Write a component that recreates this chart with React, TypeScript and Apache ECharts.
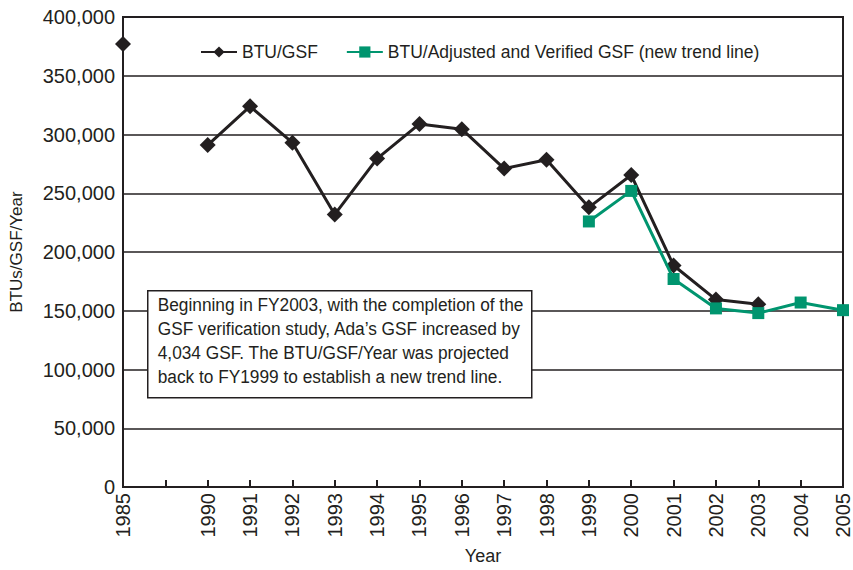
import React, { useEffect, useRef } from "react";
import * as echarts from "echarts";

const years = ["1985", "", "1990", "1991", "1992", "1993", "1994", "1995", "1996", "1997", "1998", "1999", "2000", "2001", "2002", "2003", "2004", "2005"];
const btuGsf = [377000, null, 291000, 324000, 293000, 232000, 279500, 309000, 304500, 271000, 278500, 238000, 265500, 188500, 159500, 155500, null, null];
const btuAdjusted = [null, null, null, null, null, null, null, null, null, null, null, 226000, 252000, 177000, 152000, 148000, 157000, 150500];
const yTicks = [0, 50000, 100000, 150000, 200000, 250000, 300000, 350000, 400000];
const noteLines = [
  "Beginning in FY2003, with the completion of the",
  "GSF verification study, Ada\u2019s GSF increased by",
  "4,034 GSF. The BTU/GSF/Year was projected",
  "back to FY1999 to establish a new trend line.",
];

const FONT = "'Liberation Sans Narrow', 'Arial Narrow', 'Liberation Sans', sans-serif";
const DARK = "#231f20";
const GREEN = "#00956f";

export default function App() {
  const ref = useRef<HTMLDivElement>(null);
  useEffect(() => {
    const chart = echarts.init(ref.current!, null, { renderer: "svg" });
    chart.setOption({
      animation: false,
      backgroundColor: "#ffffff",
      textStyle: { fontFamily: FONT },
      grid: { left: 119, right: 6, top: 17, bottom: 82, show: true, borderColor: DARK, borderWidth: 2 },
      legend: {
        top: 38,
        left: 195,
        itemWidth: 36,
        itemHeight: 14,
        itemGap: 28,
        textStyle: { fontFamily: FONT, fontSize: 17.5, color: DARK },
        data: ["BTU/GSF", "BTU/Adjusted and Verified GSF (new trend line)"],
      },
      xAxis: {
        type: "category",
        data: years,
        boundaryGap: false,
        name: "Year",
        nameLocation: "middle",
        nameGap: 60,
        nameTextStyle: { fontFamily: FONT, fontSize: 18, color: DARK },
        axisLine: { lineStyle: { color: DARK, width: 2 } },
        axisTick: { show: true, inside: true, length: 7, lineStyle: { color: DARK, width: 2 }, alignWithLabel: true },
        axisLabel: { rotate: 90, fontFamily: FONT, fontSize: 20, color: DARK, interval: 0, margin: 6 },
        splitLine: { show: false },
      },
      yAxis: {
        type: "value",
        min: 0,
        max: 400000,
        interval: 50000,
        name: "BTUs/GSF/Year",
        nameLocation: "middle",
        nameGap: 98,
        nameTextStyle: { fontFamily: FONT, fontSize: 17, color: DARK },
        axisLine: { show: true, lineStyle: { color: DARK, width: 2 } },
        axisTick: { show: false },
        axisLabel: {
          fontFamily: FONT,
          fontSize: 20,
          color: DARK,
          margin: 8,
          formatter: (v: number) => (yTicks.includes(v) ? v.toLocaleString("en-US") : ""),
        },
        splitLine: { show: true, lineStyle: { color: DARK, width: 1.5 } },
      },
      series: [
        {
          name: "BTU/GSF",
          type: "line",
          data: btuGsf,
          connectNulls: false,
          symbol: "diamond",
          symbolSize: 16,
          itemStyle: { color: DARK },
          lineStyle: { color: DARK, width: 3 },
          z: 3,
        },
        {
          name: "BTU/Adjusted and Verified GSF (new trend line)",
          type: "line",
          data: btuAdjusted,
          symbol: "rect",
          symbolSize: 12,
          itemStyle: { color: GREEN },
          lineStyle: { color: GREEN, width: 3 },
          z: 4,
        },
      ],
      graphic: [
        {
          type: "group",
          left: 147,
          top: 290,
          z: 100,
          children: [
            { type: "rect", z: 100, shape: { x: 0, y: 0, width: 384, height: 107 }, style: { fill: "#fff", stroke: DARK, lineWidth: 1.5 } },
            ...noteLines.map((t, i) => ({
              type: "text",
              z: 101,
              x: 10,
              y: 5 + i * 24,
              scaleX: 0.96,
              style: { text: t, font: `18px ${FONT}`, fill: DARK },
            })),
          ],
        },
      ],
    });
    return () => chart.dispose();
  }, []);
  return <div ref={ref} style={{ width: 853, height: 570, position: "absolute", left: 0, top: 0 }} />;
}
